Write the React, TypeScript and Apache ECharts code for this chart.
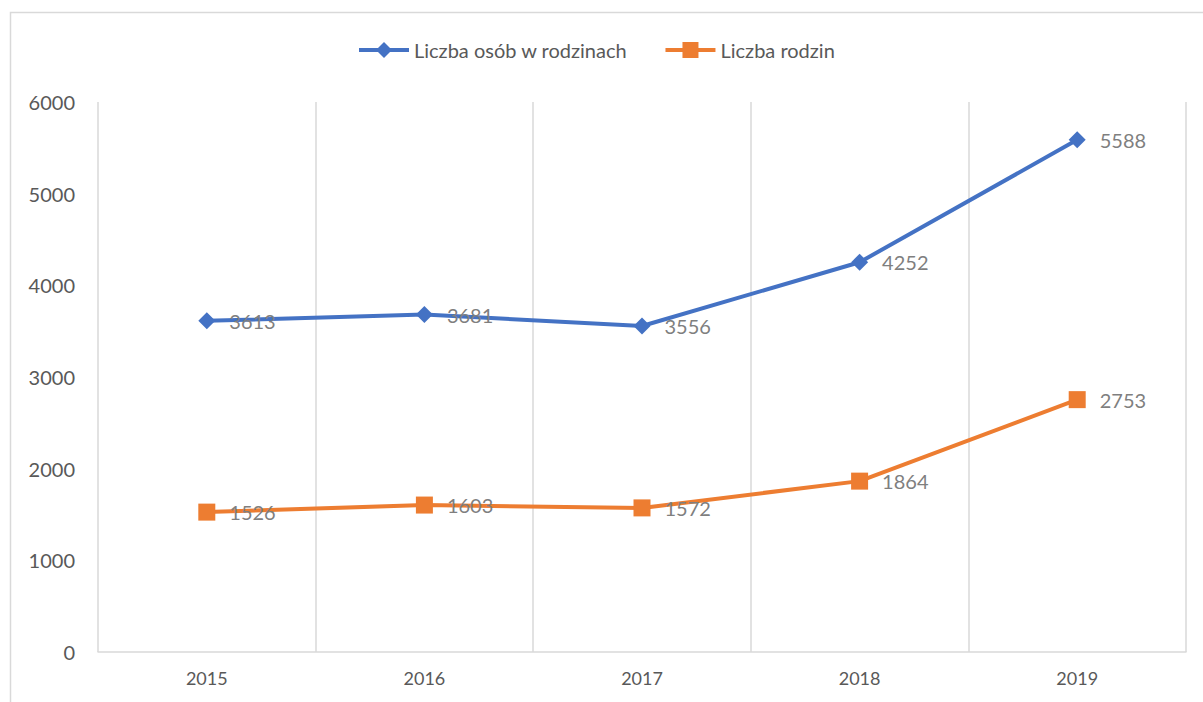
import React, { useEffect, useRef } from "react";
import * as echarts from "echarts";

const years = ["2015", "2016", "2017", "2018", "2019"];
const persons = [3613, 3681, 3556, 4252, 5588];
const families = [1526, 1603, 1572, 1864, 2753];
const seriesNames = ["Liczba osób w rodzinach", "Liczba rodzin"];

const FONT = "Lato, 'Open Sans', sans-serif";

export default function App() {
  const ref = useRef<HTMLDivElement>(null);
  useEffect(() => {
    if (!ref.current) return;
    const chart = echarts.init(ref.current, undefined, { renderer: "svg" });
    const labelStyle = {
      show: true,
      position: "right" as const,
      distance: 14,
      color: "#7f7f7f",
      fontSize: 20,
      fontFamily: FONT,
    };
    chart.setOption({
      animation: false,
      backgroundColor: "#ffffff",
      textStyle: { fontFamily: FONT },
      graphic: [
        {
          type: "rect",
          shape: { x: 10.5, y: 12.5, width: 1250, height: 750 },
          style: { fill: "none", stroke: "#d9d9d9", lineWidth: 1.5 },
          silent: true,
        },
      ],
      legend: {
        top: 40,
        left: 357,
        padding: 0,
        itemWidth: 50,
        itemHeight: 20,
        itemGap: 36,
        lineStyle: { width: 4 },
        textStyle: { color: "#595959", fontSize: 20, fontFamily: FONT },
        data: seriesNames,
      },
      grid: { left: 98, right: 17, top: 102, bottom: 50, containLabel: false },
      xAxis: {
        type: "category",
        data: years,
        boundaryGap: true,
        axisLine: { show: true, lineStyle: { color: "#d9d9d9", width: 1.5 } },
        axisTick: { show: false },
        splitLine: { show: true, lineStyle: { color: "#d9d9d9", width: 1.5 } },
        axisLabel: { color: "#595959", fontSize: 18, margin: 17, fontFamily: FONT },
      },
      yAxis: {
        type: "value",
        min: 0,
        max: 6000,
        interval: 1000,
        axisLine: { show: false },
        axisTick: { show: false },
        splitLine: { show: false },
        axisLabel: {
          color: "#595959",
          fontSize: 20,
          margin: 23,
          fontFamily: FONT,
          formatter: (v: number) => String(v),
        },
      },
      series: [
        {
          name: seriesNames[0],
          type: "line",
          data: persons,
          symbol: "diamond",
          symbolSize: 17,
          color: "#4472C4",
          lineStyle: { width: 4, color: "#4472C4" },
          itemStyle: { color: "#4472C4" },
          label: labelStyle,
        },
        {
          name: seriesNames[1],
          type: "line",
          data: families,
          symbol: "rect",
          symbolSize: 17,
          color: "#ED7D31",
          lineStyle: { width: 4, color: "#ED7D31" },
          itemStyle: { color: "#ED7D31" },
          label: labelStyle,
        },
      ],
    });
    return () => chart.dispose();
  }, []);
  return (
    <div
      ref={ref}
      style={{ position: "fixed", left: 0, top: 0, width: 1203, height: 702 }}
    />
  );
}
